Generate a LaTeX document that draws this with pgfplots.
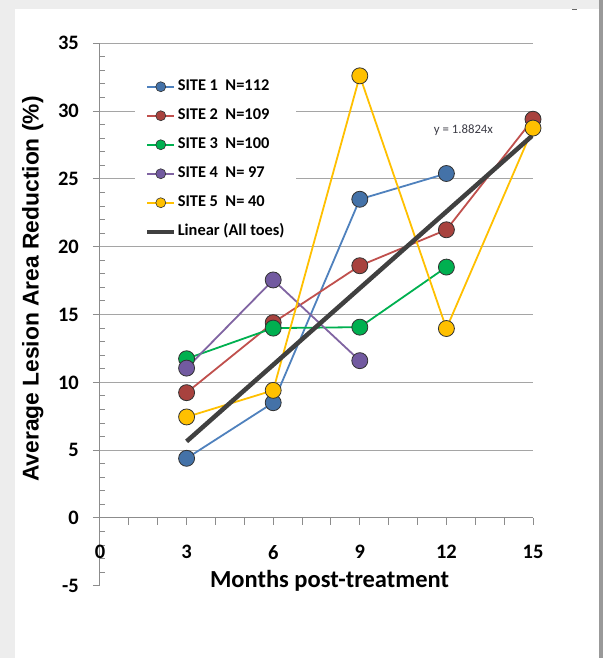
\documentclass[border=0pt]{standalone}
\usepackage{fontspec}
\setmainfont{Carlito}
\newfontfamily\libsans{Liberation Sans}
\usepackage{pgfplots}
\pgfplotsset{compat=1.18}
\definecolor{axisc}{RGB}{140,140,140}
\definecolor{gridc}{RGB}{165,165,165}
\definecolor{c1line}{RGB}{79,129,189}
\definecolor{c1fill}{RGB}{68,114,168}
\definecolor{c2line}{RGB}{192,80,77}
\definecolor{c2fill}{RGB}{168,66,62}
\definecolor{c3line}{RGB}{0,176,80}
\definecolor{c3fill}{RGB}{0,176,80}
\definecolor{c4line}{RGB}{128,100,162}
\definecolor{c4fill}{RGB}{114,90,160}
\definecolor{c5line}{RGB}{255,192,0}
\definecolor{c5fill}{RGB}{255,192,0}
\definecolor{trendc}{RGB}{64,64,64}
\definecolor{markdraw}{RGB}{50,50,50}
\definecolor{eqc}{RGB}{60,60,70}
\begin{document}
\begin{tikzpicture}
\useasboundingbox (-100pt,-72.2pt) rectangle (503pt,585.8pt);
\fill[black!7] (-100pt,-72.2pt) rectangle (503pt,585.8pt);
\fill[black!40] (499pt,-72.2pt) rectangle (503pt,585.8pt);
\fill[white] (-85pt,-72.2pt) rectangle (499pt,576.8pt);
\draw[black!60, line width=1pt] (472pt,575.8pt) -- (477pt,575.8pt);
\begin{axis}[
  at={(0,0)}, anchor=south west,
  scale only axis, width=433pt, height=542.5pt,
  xmin=0, xmax=15, ymin=-5, ymax=35,
  axis x line*=middle, axis y line*=left,
  axis line style={axisc, line width=1pt},
  tick style={axisc, line width=1pt},
  xtick={0,1,...,15},
  xticklabels={0,,,3,,,6,,,9,,,12,,,15},
  ytick={-5,0,...,35},
  minor y tick num=4,
  tick align=outside,
  major tick length=7pt, minor tick length=5pt,
  minor y tick style={xshift=5pt},
  hide obscured x ticks=false, hide obscured y ticks=false,
  tick label style={font=\bfseries\fontsize{20.5}{24}\selectfont, text=black, inner sep=0pt},
  /pgf/number format/assume math mode=true,
  xticklabel style={anchor=north, yshift=-20pt},
  yticklabel style={anchor=east, xshift=-14pt},
  xlabel={Months post-treatment},
  xlabel style={font=\bfseries\fontsize{24.5}{28}\selectfont, at={(axis description cs:0.53,-0.004)}, anchor=base},
  ylabel={Average Lesion Area Reduction (\%)},
  ylabel style={font=\libsans\bfseries\fontsize{22.8}{26}\selectfont, at={(axis description cs:-0.155,0.547)}, anchor=center},
  legend image code/.code={\draw[mark repeat=2,mark phase=2,#1] plot coordinates {(0pt,0pt) (13.5pt,0pt) (27pt,0pt)};},
  legend cell align=left,
  legend style={at={(axis description cs:0.081,0.947)}, anchor=north west, fill=white, draw=none,
    inner xsep=10pt, inner ysep=6pt, row sep=12pt,
    font=\bfseries\fontsize{16.4}{18}\selectfont,
    nodes={inner sep=1.5pt, text height=11pt, text depth=3pt}},
]
\pgfplotsinvokeforeach{5,10,...,35}{\draw[gridc, line width=1pt] (axis cs:0,#1) -- (axis cs:15,#1);}
% lines
\addplot[forget plot, c1line, line width=1.8pt] coordinates {(3,4.4) (6,8.5) (9,23.5) (12,25.4)};
\addplot[forget plot, c2line, line width=1.8pt] coordinates {(3,9.24) (6,14.4) (9,18.6) (12,21.25) (15,29.4)};
\addplot[forget plot, c3line, line width=1.8pt] coordinates {(3,11.74) (6,14.0) (9,14.07) (12,18.5)};
\addplot[forget plot, c4line, line width=1.8pt] coordinates {(3,11.05) (6,17.55) (9,11.6)};
\addplot[forget plot, c5line, line width=1.8pt] coordinates {(3,7.45) (6,9.41) (9,32.6) (12,13.97) (15,28.75)};
% trend
\addplot[forget plot, trendc, line width=4.5pt] coordinates {(3,5.647) (15,28.236)};
% marks
\addplot[forget plot, only marks, mark=*, mark size=8pt, mark options={fill=c1fill, draw=markdraw, line width=0.8pt}] coordinates {(3,4.4) (6,8.5) (9,23.5) (12,25.4)};
\addplot[forget plot, only marks, mark=*, mark size=8pt, mark options={fill=c2fill, draw=markdraw, line width=0.8pt}] coordinates {(3,9.24) (6,14.4) (9,18.6) (12,21.25) (15,29.4)};
\addplot[forget plot, only marks, mark=*, mark size=8pt, mark options={fill=c3fill, draw=markdraw, line width=0.8pt}] coordinates {(3,11.74) (6,14.0) (9,14.07) (12,18.5)};
\addplot[forget plot, only marks, mark=*, mark size=8pt, mark options={fill=c4fill, draw=markdraw, line width=0.8pt}] coordinates {(3,11.05) (6,17.55) (9,11.6)};
\addplot[forget plot, only marks, mark=*, mark size=8pt, mark options={fill=c5fill, draw=markdraw, line width=0.8pt}] coordinates {(3,7.45) (6,9.41) (9,32.6) (12,13.97) (15,28.75)};
% legend
\addlegendimage{c1line, line width=1.8pt, mark=*, mark size=5pt, mark options={fill=c1fill, draw=markdraw, line width=0.6pt}}
\addlegendentry{SITE 1\ \ N=112}
\addlegendimage{c2line, line width=1.8pt, mark=*, mark size=5pt, mark options={fill=c2fill, draw=markdraw, line width=0.6pt}}
\addlegendentry{SITE 2\ \ N=109}
\addlegendimage{c3line, line width=1.8pt, mark=*, mark size=5pt, mark options={fill=c3fill, draw=markdraw, line width=0.6pt}}
\addlegendentry{SITE 3\ \ N=100}
\addlegendimage{c4line, line width=1.8pt, mark=*, mark size=5pt, mark options={fill=c4fill, draw=markdraw, line width=0.6pt}}
\addlegendentry{SITE 4\ \ N= 97}
\addlegendimage{c5line, line width=1.8pt, mark=*, mark size=5pt, mark options={fill=c5fill, draw=markdraw, line width=0.6pt}}
\addlegendentry{SITE 5\ \ N= 40}
\addlegendimage{trendc, line width=4pt}
\addlegendentry{Linear (All toes)}
\node[font=\fontsize{12.8}{14}\selectfont, text=eqc] at (axis cs:12.59,28.56) {y = 1.8824x};
\end{axis}
\end{tikzpicture}
\end{document}
